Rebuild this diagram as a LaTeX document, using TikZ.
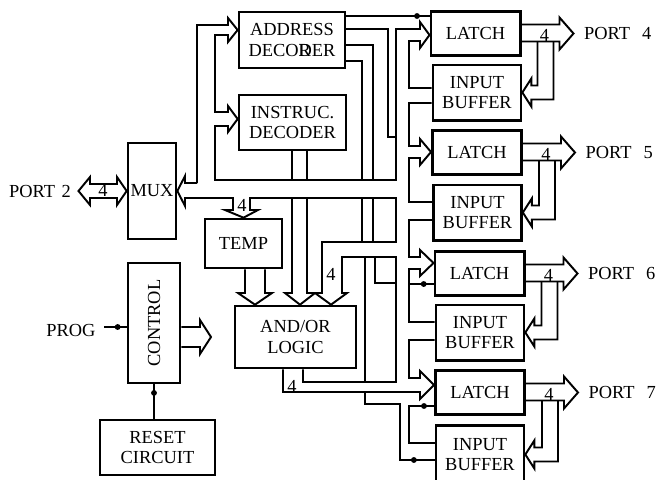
\documentclass[tikz,border=0pt]{standalone}
\usepackage{graphicx}
\usepackage{fontspec}
\setmainfont{Liberation Serif}
\usetikzlibrary{arrows.meta, positioning, calc}

\tikzset{
  blk/.style={draw, line width=2pt, align=center, inner sep=0pt,
    font=\fontsize{13.8}{15.5}\selectfont},
  latch/.style={blk, minimum width=67pt, minimum height=33pt},
  ibuf/.style={blk, minimum width=66pt, minimum height=41.5pt},
  wire/.style={line width=1.45pt, line join=miter},
  lbl/.style={font=\fontsize{13.8}{15.5}\selectfont, inner sep=1pt},
  blob/.style={circle, fill, inner sep=0pt, minimum size=4.4pt},
}

\begin{document}
\begin{tikzpicture}[x=0.75pt, y=-0.75pt]
  \useasboundingbox (0,0) rectangle (661,479);

  % blocks
  \node[blk, minimum width=79.5pt, minimum height=42pt] (ad) at (292,40) {ADDRESS\\DECO\rlap{R}DER};
  \node[blk, minimum width=80.25pt, minimum height=41.25pt] (id) at (292.5,122.5) {INSTRUC.\\DECODER};
  \node[blk, minimum width=36pt, minimum height=72pt] (mux) at (152,191) {MUX};
  \node[blk, minimum width=57.75pt, minimum height=36.75pt] (temp) at (243.5,243.5) {TEMP};
  \node[blk, minimum width=90.75pt, minimum height=46.5pt] (logic) at (295.5,337) {AND/OR\\LOGIC};
  \node[blk, minimum width=39pt, minimum height=90pt] (ctrl) at (154,323) {\rotatebox{90}{CONTROL}};
  \node[blk, minimum width=86.25pt, minimum height=41.25pt] (reset) at (157.5,447.5) {RESET\\CIRCUIT};

  \node[latch] (l1) at (475.5,33.5) {LATCH};
  \node[ibuf]  (b1) at (477,92.5) {INPUT\\BUFFER};
  \node[latch] (l2) at (477,152.5) {LATCH};
  \node[ibuf]  (b2) at (477.5,212.5) {INPUT\\BUFFER};
  \node[latch] (l3) at (479.5,273.5) {LATCH};
  \node[ibuf]  (b3) at (480,332.5) {INPUT\\BUFFER};
  \node[latch] (l4) at (480,392.5) {LATCH};
  \node[ibuf, minimum height=44pt] (b4) at (480,454.5) {INPUT\\BUFFER};

  \node[lbl] (p2) at (40,191) {PORT\hspace{5pt}2};
  \node[lbl] (prog) at (71,330) {PROG};

  % ports 4..7
  \foreach \n/\p in {1/4,2/5,3/6,4/7}{
    \coordinate (t\n) at ($(l\n.east)+(52,0)$);
    \node[lbl, anchor=west] (p\p) at ($(t\n)+(9,0)$) {PORT\hspace{9pt}\p};
    \draw[wire] ($(l\n.east)+(0,-9)$) -| ($(t\n)+(-14,-16)$) -- (t\n)
      -- ($(t\n)+(-14,16)$) |- ($(l\n.east)+(0,8)$);
    \node[lbl] (w\p) at ($(l\n.east)+(23,2)$) {4};
    \draw[wire] ($(l\n.east)+(16,8)$) |- ($(b\n.east)+(9,-7)$) -- ++(0,-7)
      -- (b\n.east) -- ++(9,14) -- ++(0,-7) -| ($(l\n.east)+(32,8)$);
  }

  % port 2 <-> mux
  \draw[wire] (mux.west) -- (117,177) -- (117,184) -- (90,184) -- (90,177)
    -- ($(p2.east)+(6,0)$) -- (90,205) -- (90,198) -- (117,198) -- (117,205) -- cycle;
  \node[lbl] (w2) at (103,190) {4};

  % mux bus down to temp and logic
  \draw[wire] (197,183) -- (185,183) -- (185,176) -- (mux.east) -- (185,206) -- (185,198)
    -- (233,198) -- (233,210) -- (225,210) -- (temp.north) -- (258,210) -- (250,210)
    -- (250,198) -- (396,198) -- (396,242) -- (322,242) -- (322,293) -- (315,293)
    -- (logic.north -| 331,0) -- (347,293) -- (342,293) -- (342,257) -- (396,257)
    -- (396,382) -- (303,382) -- (logic.south -| 303,0);
  \node[lbl] (w3) at (242,205) {4};
  \node[lbl] (w4) at (331,274) {4};

  % mux bus up to decoders and latches
  \draw[wire] (197,183) -- (197,25) -- (228,25) -- (228,18) -- (ad.west |- 0,30)
    -- (228,42) -- (228,35) -- (215,35) -- (215,112) -- (228,112) -- (228,106)
    -- (id.west |- 0,119) -- (228,132) -- (228,126) -- (215,126) -- (215,180)
    -- (396,180) -- (396,29) -- (420,29) -- (420,22) -- (l1.west |- 0,35)
    -- (420,48) -- (420,41) -- (409,41) -- (409,88) -- (b1.west |- 0,88);
  \draw[wire] (b1.west |- 0,103) -- (409,103) -- (409,146) -- (420,146) -- (420,139)
    -- (l2.west |- 0,152) -- (420,165) -- (420,158) -- (409,158) -- (409,202)
    -- (b2.west |- 0,202);
  \draw[wire] (b2.west |- 0,220) -- (409,220) -- (409,257) -- (420,257) -- (420,250)
    -- (l3.west |- 0,263) -- (420,276) -- (420,269) -- (409,269) -- (409,322)
    -- (b3.west |- 0,322);
  \draw[wire] (409,284) -- node[pos=.6, blob] (d3) {} (l3.west |- 0,284);
  \draw[wire] (b3.west |- 0,340) -- (409,340) -- (409,378) -- (420,378) -- (420,371)
    -- (l4.west |- 0,385) -- (420,399) -- (420,392) -- (283,392)
    -- (logic.south -| 283,0);
  \draw[wire] (b4.west |- 0,443) -| (409,406) -- node[pos=.6, blob] (d4) {} (l4.west |- 0,406);
  \draw[wire] (365,392) -- (365,404) -- (400,404) -- (400,460)
    -- node[pos=.4, blob] (d5) {} (b4.west |- 0,460);
  \node[lbl] (w8) at (292,386) {4};

  % instruction decoder to logic
  \draw[wire] (id.south -| 292,0) -- (292,180);
  \draw[wire] (id.south -| 307,0) -- (307,180);
  \draw[wire] (292,198) -- (292,293) -- (285,293) -- (logic.north -| 300,0)
    -- (315,293) -- (307,293) -- (307,198);

  % temp to logic
  \draw[wire] (temp.south -| 245,0) -- (245,293) -- (238,293) -- (logic.north -| 255,0)
    -- (272,293) -- (265,293) -- (temp.south -| 265,0);

  % address decoder strobes
  \draw[wire] (ad.east |- 0,16) -- node[pos=.85, blob] (d1) {} (l1.west |- 0,16);
  \draw[wire] (ad.east |- 0,29) -| (388,137) -- (396,137);
  \draw[wire] (ad.east |- 0,45) -| (373,180);
  \draw[wire] (ad.east |- 0,61) -| (362,180);
  \draw[wire] (362,198) -- (362,242);
  \draw[wire] (373,198) -- (373,242);
  \draw[wire] (365,257) -- (365,382);
  \draw[wire] (375,257) |- (396,283);

  % control
  \coordinate (cout) at (211,337);
  \draw[wire] (ctrl.east |- 0,327) -- (200,327) -- (200,320) -- (cout) -- (200,354)
    -- (200,347) -- (ctrl.east |- 0,347);
  \draw[wire] ($(prog.east)+(7,-3)$) -- node[pos=.6, blob] (d6) {} (ctrl.west |- 0,327);
  \draw[wire] (reset.north -| ctrl.south) -- node[pos=.75, blob] (d7) {} (ctrl.south);
\end{tikzpicture}
\end{document}
